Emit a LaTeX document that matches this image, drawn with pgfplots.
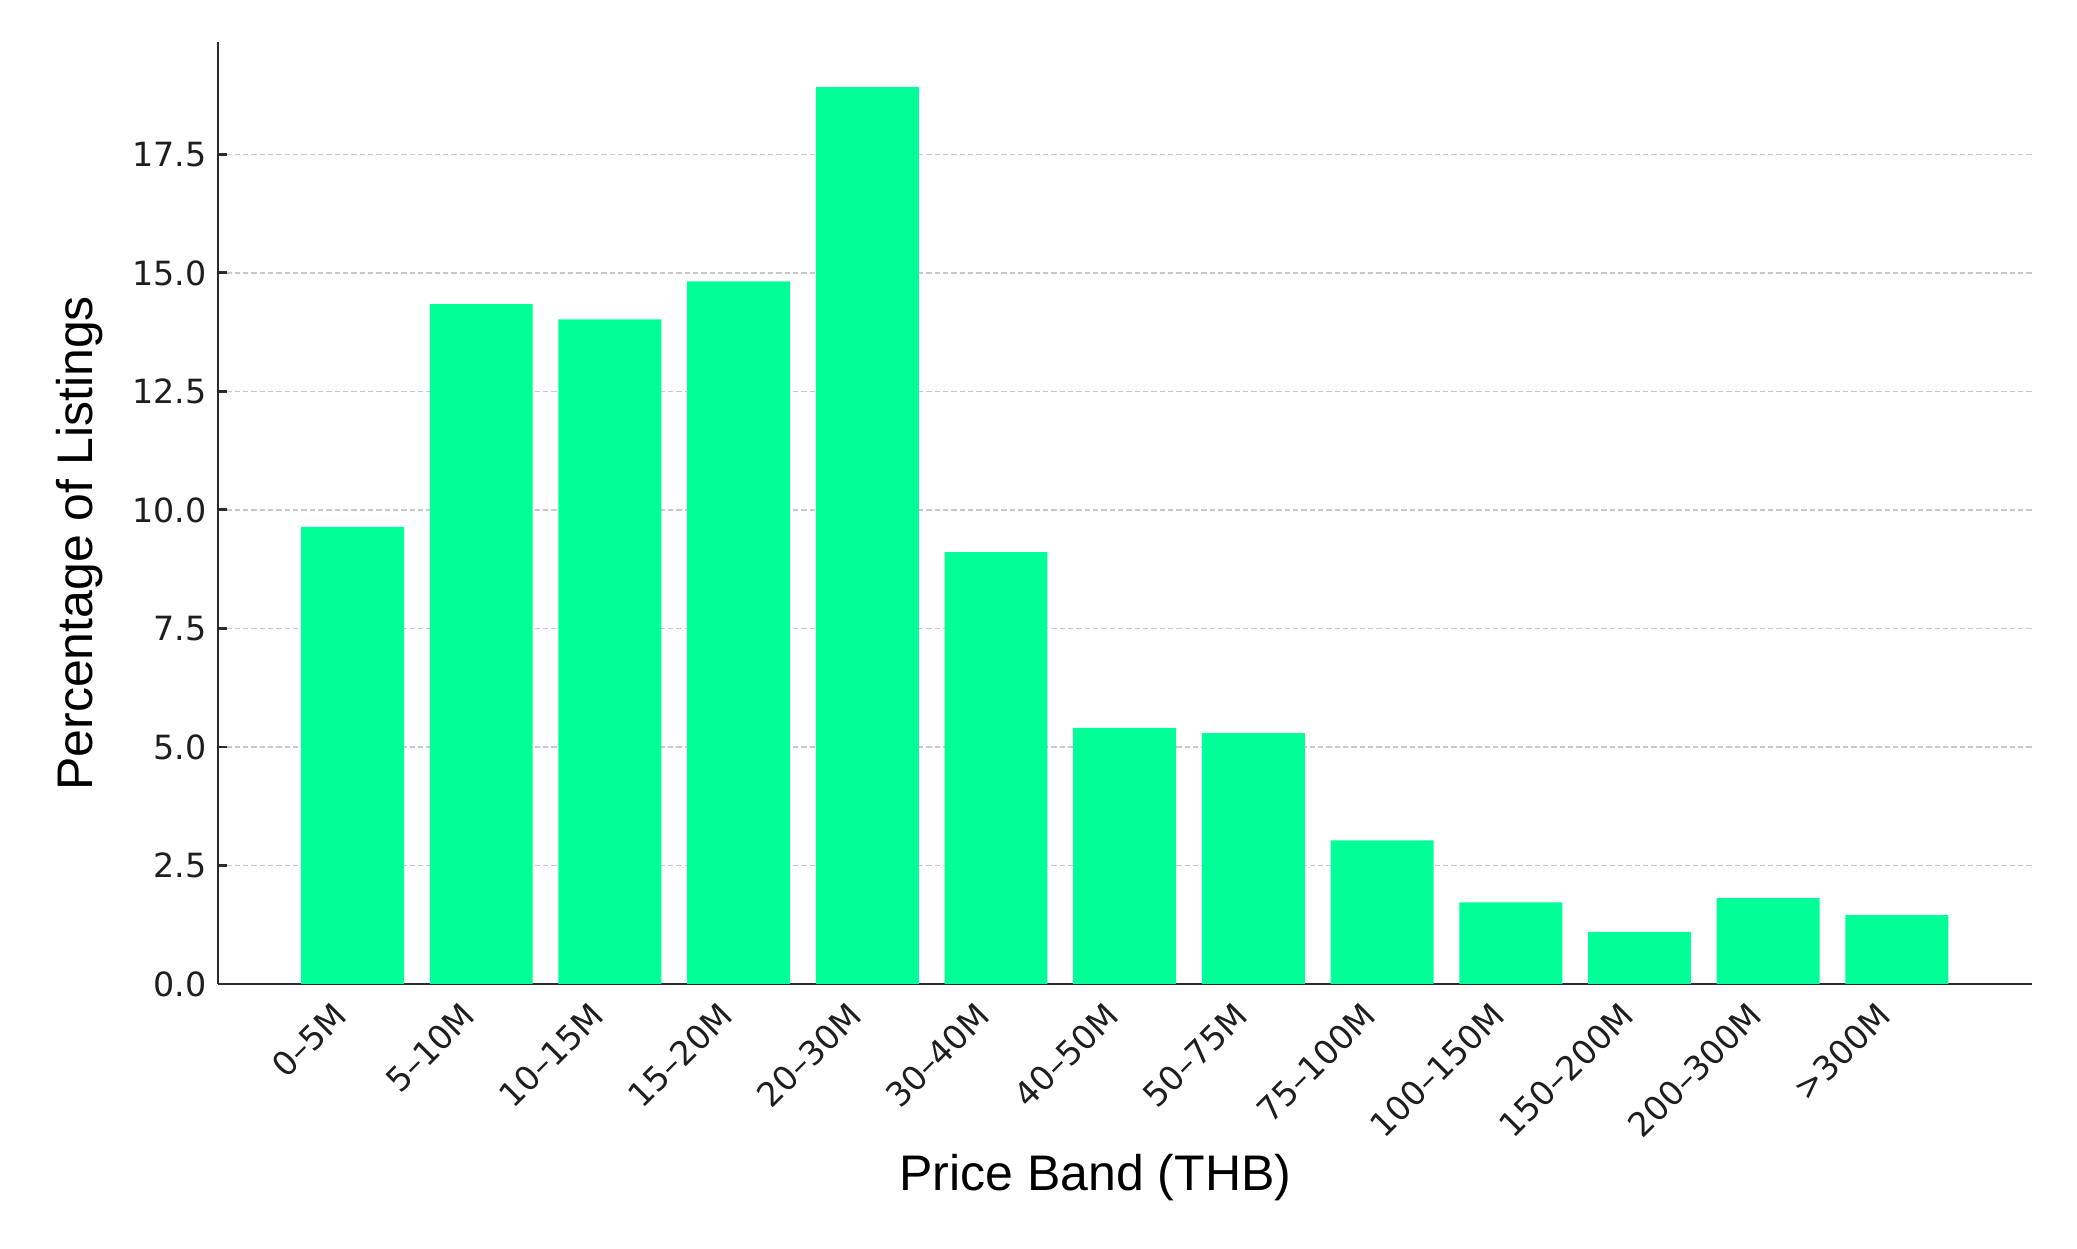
\documentclass[border=0pt]{standalone}
\usepackage{pgfplots}
\pgfplotsset{compat=1.18}
\usepackage{fontspec}
\setmainfont{Liberation Sans}
\newfontfamily\tickfont{DejaVu Sans}
\definecolor{barc}{RGB}{0,255,150}
\definecolor{spine}{HTML}{2B2B2B}
\definecolor{gridc}{HTML}{C8C8C8}
\definecolor{tickc}{HTML}{1E1E1E}
\begin{document}
\begin{tikzpicture}
\path[use as bounding box] (0,0) rectangle (747.7pt,449.6pt);
\begin{axis}[
  at={(78.5pt,95.4pt)}, anchor=south west,
  width=653pt, height=338.9pt, scale only axis,
  xmin=-1.045, xmax=13.05, ymin=0, ymax=19.86,
  axis x line*=bottom, axis y line*=left,
  axis line style={spine, line width=1pt},
  ybar, bar width=0.8, bar shift=0pt,
  ymajorgrids,
  grid style={gridc, line width=0.6pt, dash pattern=on 1.9pt off 1.1pt},
  xtick={0,1,2,3,4,5,6,7,8,9,10,11,12},
  xticklabels={0–5M,5–10M,10–15M,15–20M,20–30M,30–40M,40–50M,50–75M,75–100M,100–150M,150–200M,200–300M,>300M},
  ytick={0,2.5,5,7.5,10,12.5,15,17.5},
  yticklabels={0.0,2.5,5.0,7.5,10.0,12.5,15.0,17.5},
  tick align=inside,
  major tick length=3.2pt,
  xtick style={draw=none},
  ytick style={spine, line width=1pt},
  yticklabel style={font=\tickfont\fontsize{12pt}{14pt}\selectfont, text=tickc, inner sep=0pt, anchor=east, xshift=-3.9pt},
  xticklabel style={font=\tickfont\fontsize{12pt}{14pt}\selectfont, text=tickc, inner sep=0pt, anchor=north east, xshift=-7.7pt, yshift=-5.6pt, rotate=45},
  xlabel={Price Band (THB)},
  ylabel={Percentage of Listings},
  xlabel style={font=\fontsize{18pt}{21pt}\selectfont, at={(rel axis cs:0.4837,-0.206)}, anchor=center},
  ylabel style={font=\fontsize{18pt}{21pt}\selectfont, at={(rel axis cs:-0.0763,0.468)}, anchor=center},
]
\addplot[fill=barc, draw=none] coordinates {
  (0,9.64) (1,14.34) (2,14.02) (3,14.82) (4,18.92) (5,9.11) (6,5.40)
  (7,5.29) (8,3.03) (9,1.72) (10,1.10) (11,1.81) (12,1.45)
};
\end{axis}
\end{tikzpicture}
\end{document}
